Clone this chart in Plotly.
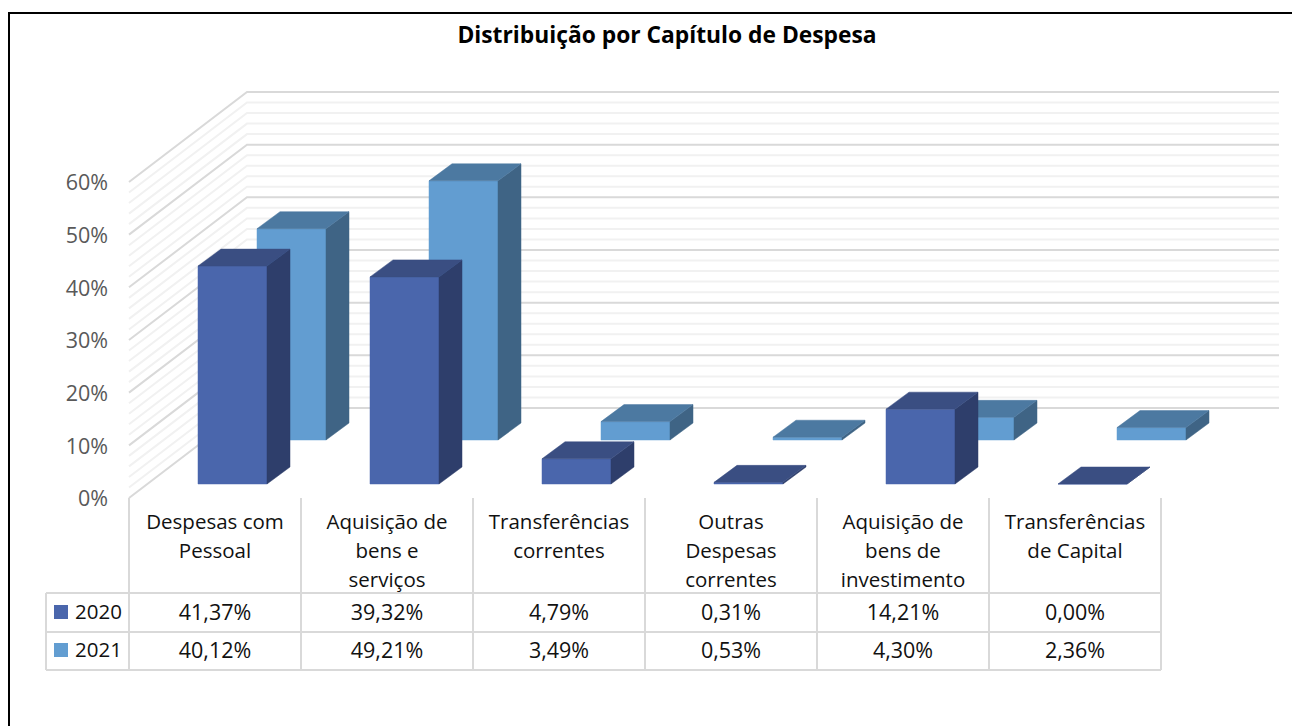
import plotly.graph_objects as go

# ---------- data ----------
categories = [
    ["Despesas com", "Pessoal"],
    ["Aquisição de", "bens e", "serviços"],
    ["Transferências", "correntes"],
    ["Outras", "Despesas", "correntes"],
    ["Aquisição de", "bens de", "investimento"],
    ["Transferências", "de Capital"],
]
series_names = ["2020", "2021"]
values_2020 = [41.37, 39.32, 4.79, 0.31, 14.21, 0.00]
values_2021 = [40.12, 49.21, 3.49, 0.53, 4.30, 2.36]
labels_2020 = ["41,37%", "39,32%", "4,79%", "0,31%", "14,21%", "0,00%"]
labels_2021 = ["40,12%", "49,21%", "3,49%", "0,53%", "4,30%", "2,36%"]
major_ticks = [0, 10, 20, 30, 40, 50, 60]
minor_ticks = [v for v in range(2, 60, 2) if v % 10]
title = "Distribuição por Capítulo de Despesa"

# ---------- geometry: 1 x unit = one category, 1 y unit = one percent ----------
W, H = 1292, 726
X_PX, X0 = 172.0, 129.0
Y_PX, Y0 = 5.267, 498.0
def xpx(p): return (p - X0) / X_PX
def ypx(p): return (Y0 - p) / Y_PX

WALL_DX, WALL_DY = 118 / X_PX, 90 / Y_PX      # floor depth
SPAN = xpx(1279) - WALL_DX                    # wall length
BAR_L, BAR_W = 50 / X_PX, 69 / X_PX
BAR_DX, BAR_DY = 23 / X_PX, 17 / Y_PX          # bar depth
Z = {"2020": (19 / X_PX, 14 / Y_PX), "2021": (78 / X_PX, 58 / Y_PX)}
TICK_TEXT_SHIFT = 3 / Y_PX

fig = go.Figure()

def line(xs, ys, color, width=2):
    fig.add_trace(go.Scatter(x=xs, y=ys, mode="lines", hoverinfo="skip",
                             line=dict(color=color, width=width)))

def grid(ticks, color):
    xs, ys = [], []
    for v in ticks:
        xs += [0, WALL_DX, WALL_DX + SPAN, None]
        ys += [v, v + WALL_DY, v + WALL_DY, None]
    line(xs, ys, color)

grid(minor_ticks, "#F1F1F1")
grid(major_ticks, "#D9D9D9")

def poly(paths, color, name):
    xs, ys = [], []
    for p in paths:
        xs += [a for a, _ in p] + [p[0][0], None]
        ys += [b for _, b in p] + [p[0][1], None]
    fig.add_trace(go.Scatter(x=xs, y=ys, mode="lines", fill="toself", fillcolor=color,
                             line=dict(color=color, width=0.5), name=name, hoverinfo="skip"))

def bars(values, name, front, side, top):
    ox, oy = Z[name]
    fr, si, to = [], [], []
    for i, v in enumerate(values):
        l = i + BAR_L + ox
        r = l + BAR_W
        b = oy
        t = oy + v
        fr.append([(l, b), (r, b), (r, t), (l, t)])
        si.append([(r, b), (r + BAR_DX, b + BAR_DY), (r + BAR_DX, t + BAR_DY), (r, t)])
        to.append([(l, t), (r, t), (r + BAR_DX, t + BAR_DY), (l + BAR_DX, t + BAR_DY)])
    poly(fr, front, name)
    poly(si, side, name)
    poly(to, top, name)

bars(values_2021, "2021", "#629DD1", "#3F6485", "#4C79A1")
bars(values_2020, "2020", "#4A66AC", "#2E3E6B", "#3A4E82")

# ---------- data table ----------
n = len(categories)
TBL = "#D9D9D9"
table_left, row_top, row1, row2, cat_top = xpx(46), ypx(593), ypx(632), ypx(670), ypx(498)
xs, ys = [], []
for y_ in (row_top, row1, row2):
    xs += [table_left, n, None]; ys += [y_, y_, None]
for i in range(n + 1):
    xs += [i, i, None]; ys += [cat_top, row2, None]
xs += [table_left, table_left, None]; ys += [row_top, row2, None]
line(xs, ys, TBL)

def text(xs, ys, strs, color, size, pos="middle center"):
    fig.add_trace(go.Scatter(x=xs, y=ys, text=strs, mode="text", textposition=pos, hoverinfo="skip",
                             textfont=dict(family="Open Sans", size=size, color=color)))

cx, cy, cs = [], [], []
for i, lines in enumerate(categories):
    for j, s in enumerate(lines):
        cx.append(i + 0.5); cy.append(ypx(524 + 29 * j)); cs.append(s)
text(cx, cy, cs, "#111111", 20.5)
centers = [i + 0.5 for i in range(n)]
text(centers, [ypx(614.5)] * n, labels_2020, "#111111", 21.5)
text(centers, [ypx(652.5)] * n, labels_2021, "#111111", 21.5)
text([xpx(98.5), xpx(98.5)], [ypx(613.5), ypx(651.5)], series_names, "#111111", 20.5)
fig.add_trace(go.Scatter(x=[xpx(61), xpx(61)], y=[ypx(612), ypx(650)], mode="markers", hoverinfo="skip",
                         marker=dict(symbol="square", size=14, color=["#4A66AC", "#629DD1"])))
text([xpx(108)] * len(major_ticks), [v - TICK_TEXT_SHIFT for v in major_ticks],
     [f"{v}%" for v in major_ticks], "#595959", 21.5, "middle left")

fig.update_layout(
    width=W, height=H, margin=dict(l=0, r=0, t=0, b=0), showlegend=False,
    paper_bgcolor="white", plot_bgcolor="white",
    title=dict(text=title, x=667 / W, y=1 - 35 / H, xanchor="center", yanchor="middle",
               font=dict(family="Open Sans", size=22.8, color="#000000", weight="bold")),
    xaxis=dict(range=[xpx(0), xpx(W)], visible=False),
    yaxis=dict(range=[ypx(H), ypx(0)], visible=False),
    shapes=[
        dict(type="line", xref="paper", yref="paper", x0=9 / W, x1=9 / W, y0=0, y1=1 - 12 / H,
             line=dict(color="#000000", width=2)),
        dict(type="line", xref="paper", yref="paper", x0=8 / W, x1=1, y0=1 - 13 / H, y1=1 - 13 / H,
             line=dict(color="#000000", width=2)),
    ],
)
fig.write_html("out.html", config={"displayModeBar": False},
               post_script="document.body.style.margin='0';document.body.style.overflow='hidden';")
